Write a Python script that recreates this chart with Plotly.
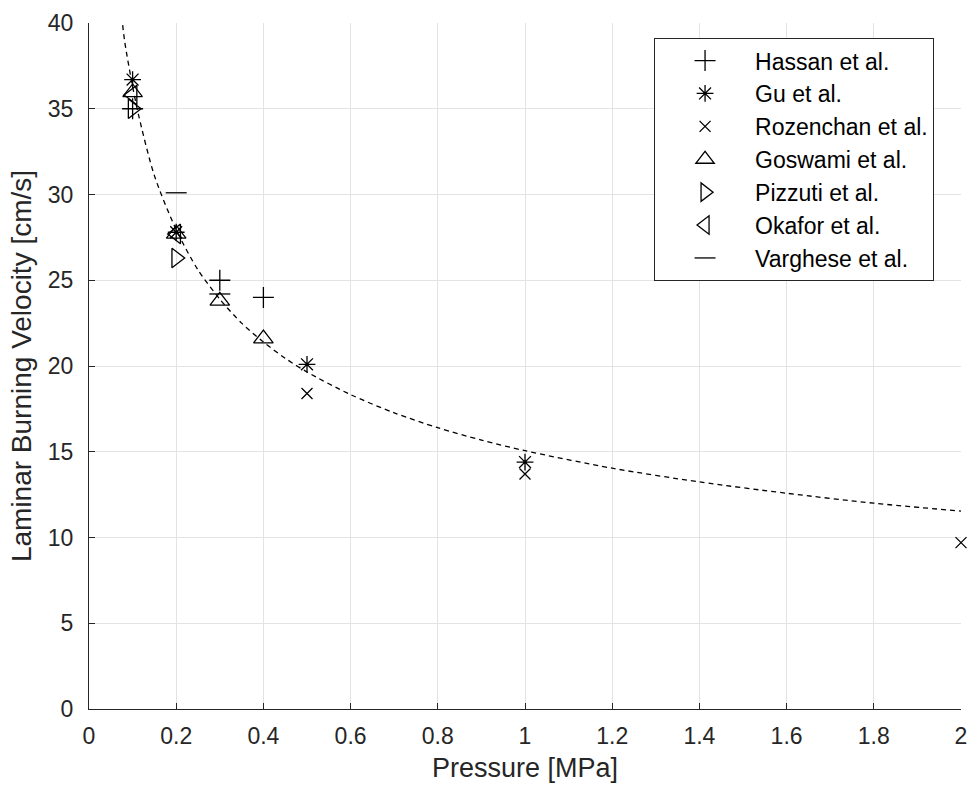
import plotly.graph_objects as go

# ---- data ----
hassan_p = [0.1, 0.3, 0.4]
hassan_s = [35.0, 25.0, 24.0]

gu_p = [0.1, 0.2, 0.5, 1.0]
gu_s = [36.7, 27.8, 20.1, 14.4]

rozenchan_p = [0.5, 1.0, 2.0]
rozenchan_s = [18.4, 13.7, 9.7]

goswami_p = [0.1, 0.2, 0.3, 0.4]
goswami_s = [35.95, 27.7, 23.8, 21.6]

pizzuti_p = [0.1, 0.2]
pizzuti_s = [35.0, 26.3]

okafor_p = [0.1, 0.2]
okafor_s = [35.8, 27.7]

varghese_p = [0.2, 0.3]
varghese_s = [30.1, 24.2]

fit_p = [0.075, 0.082, 0.1, 0.114, 0.15, 0.2, 0.25, 0.3, 0.35, 0.4, 0.45,
         0.5, 0.6, 0.7, 0.8, 0.9, 1.0, 1.2, 1.4, 1.6, 1.8, 2.0]
fit_s = [40.4, 38.9, 36.3, 34.6, 31.1, 27.95, 25.6, 23.9, 22.5, 21.4, 20.45,
         19.65, 18.33, 17.27, 16.4, 15.68, 15.06, 14.04, 13.24, 12.58, 12.0, 11.54]

x_ticks = [0, 0.2, 0.4, 0.6, 0.8, 1, 1.2, 1.4, 1.6, 1.8, 2]
x_tick_labels = ["0", "0.2", "0.4", "0.6", "0.8", "1", "1.2", "1.4", "1.6", "1.8", "2"]
y_ticks = [0, 5, 10, 15, 20, 25, 30, 35, 40]
y_tick_labels = [str(v) for v in y_ticks]

series = [
    ("Hassan et al.", hassan_p, hassan_s, "cross-thin-open", 15),
    ("Gu et al.", gu_p, gu_s, "asterisk-open", 14),
    ("Rozenchan et al.", rozenchan_p, rozenchan_s, "x-thin-open", 11),
    ("Goswami et al.", goswami_p, goswami_s, "triangle-up-open", 17),
    ("Pizzuti et al.", pizzuti_p, pizzuti_s, "triangle-right-open", 17),
    ("Okafor et al.", okafor_p, okafor_s, "triangle-left-open", 17),
    ("Varghese et al.", varghese_p, varghese_s, "line-ew-open", 15),
]

FONT = "Liberation Sans, Arial, sans-serif"
fig = go.Figure()

fig.add_trace(go.Scatter(
    x=fit_p, y=fit_s, mode="lines",
    line=dict(color="black", width=1.3, dash="5px,4px", shape="spline", smoothing=0.8),
    showlegend=False, hoverinfo="skip", cliponaxis=True))

for name, px, py, sym, sz in series:
    fig.add_trace(go.Scatter(
        x=px, y=py, mode="markers", name=name, cliponaxis=False,
        marker=dict(symbol=sym, size=sz, color="black", line=dict(color="black", width=1.3)),
    ))

axis_common = dict(
    showgrid=True, gridcolor="#e3e3e3", gridwidth=1,
    showline=True, linecolor="#262626", linewidth=1,
    ticks="inside", ticklen=6, tickcolor="#262626",
    zeroline=False, mirror=False,
    tickfont=dict(family=FONT, size=23, color="#262626"),
)

fig.update_xaxes(range=[0, 2], tickvals=x_ticks, ticktext=x_tick_labels,
                 ticklabelstandoff=6,
                 title=dict(text="Pressure [MPa]", font=dict(family=FONT, size=27, color="#262626"), standoff=10),
                 **axis_common)
fig.update_yaxes(range=[0, 40], tickvals=y_ticks, ticktext=y_tick_labels,
                 ticklabelstandoff=10,
                 title=dict(text="Laminar Burning Velocity [cm/s]", font=dict(family=FONT, size=28, color="#262626"), standoff=8),
                 **axis_common)

fig.update_layout(
    width=977, height=793,
    margin=dict(l=89, r=10, t=16, b=84),
    plot_bgcolor="white", paper_bgcolor="white",
    font=dict(family=FONT, color="#262626"),
    legend=dict(x=0.648, y=0.978, xanchor="left", yanchor="top",
                bgcolor="white", bordercolor="#262626", borderwidth=1,
                font=dict(family=FONT, size=23, color="black"),
                itemwidth=90, tracegroupgap=0),
)

fig.write_html("out.html")
